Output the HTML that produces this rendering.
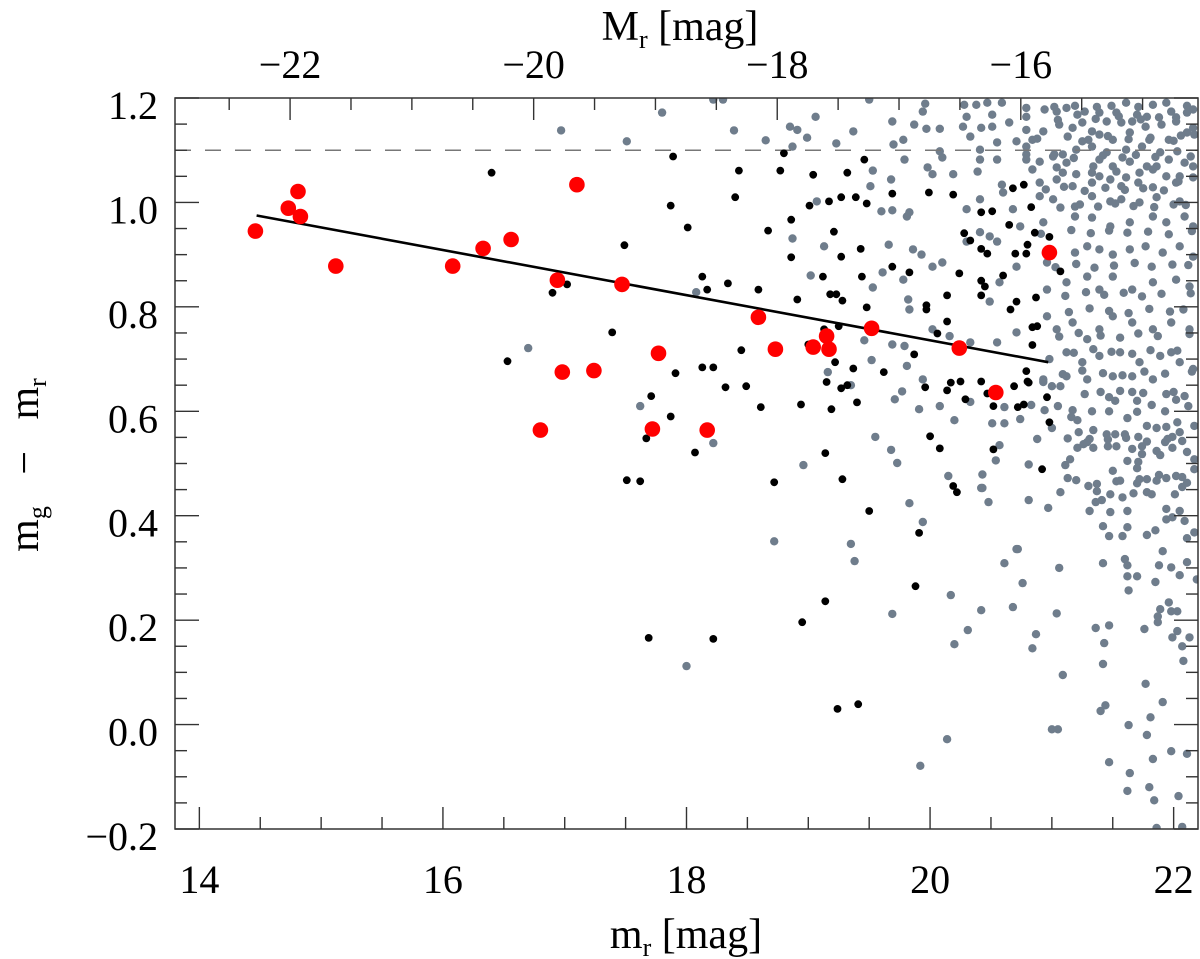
<!DOCTYPE html>
<html><head><meta charset="utf-8"><style>
html,body{margin:0;padding:0;background:#fff;}
svg{display:block;}
text{font-family:"Liberation Serif","DejaVu Serif",serif;fill:#000;}
</style></head><body>
<svg id="chart" width="1200" height="959" viewBox="0 0 1200 959" xmlns="http://www.w3.org/2000/svg">
<g id="gray"></g>
<g id="refs"></g>
<g id="black"></g>
<g id="fit"></g>
<g id="red"></g>
<g id="axes"></g>
</svg>
<script>
const xTicks=[14,16,18,20,22];
const yTicks=[-0.2,0.0,0.2,0.4,0.6,0.8,1.0,1.2];
const yTickLabels=["\u22120.2","0.0","0.2","0.4","0.6","0.8","1.0","1.2"];
const topTicks=[-22,-20,-18,-16];
const topTickLabels=["\u221222","\u221220","\u221218","\u221216"];
const distOffset=36.745;
const cutColor=[1.1];
const fitM=[14.47,20.97];
const fitV=[0.975,0.694];
const redM=[14.46,14.73,14.81,14.83,15.12,16.08,16.33,16.56,16.94,16.98,17.47,16.80,17.24,17.72,17.77,18.17,17.10,18.59,18.73,19.04,19.15,19.17,19.52,20.24,20.54,20.98];
const redV=[0.945,0.989,1.021,0.973,0.878,0.878,0.912,0.929,0.851,0.675,0.843,0.564,0.678,0.566,0.711,0.564,1.034,0.780,0.719,0.723,0.744,0.719,0.759,0.721,0.636,0.904];
const blackM=[16.40,17.89,17.87,18.01,17.49,17.02,16.90,17.39,16.53,18.13,18.17,18.34,18.59,18.43,18.40,18.80,18.77,18.67,18.86,18.86,18.91,19.04,19.01,19.17,19.27,19.39,19.48,19.32,19.46,19.69,19.21,19.27,19.43,19.44,19.69,19.12,19.18,19.23,19.28,19.48,19.25,19.13,19.00,19.22,19.37,19.62,19.15,19.27,19.32,19.40,19.19,18.94,18.61,18.45,18.13,18.22,17.91,18.32,18.49,17.71,17.87,17.67,18.07,17.51,17.62,18.72,19.14,19.28,19.50,19.91,19.88,19.14,18.95,17.69,18.22,19.24,19.41,20.19,20.22,19.96,20.17,20.25,20.42,20.14,20.29,20.47,20.52,20.69,20.72,20.77,20.81,20.96,20.98,20.00,20.08,20.52,20.92,19.99,20.19,20.68,20.77,20.42,20.51,20.83,20.65,20.28,20.33,20.42,20.47,20.86,20.98,20.80,20.70,20.79,21.07,19.83,20.24,20.60,20.42,20.45,20.42,20.14,20.87,20.71,20.66,19.97,19.97,20.14,20.06,20.84,20.88,20.84,19.87,20.79,20.80];
const blackV=[1.057,1.088,0.994,0.952,0.918,0.843,0.827,0.751,0.696,0.858,0.833,0.845,0.833,1.061,1.010,1.094,1.061,0.946,0.967,0.895,0.814,1.053,0.994,1.002,1.010,1.010,0.998,1.057,1.082,1.017,0.944,0.896,0.911,0.858,0.877,0.858,0.824,0.824,0.812,0.799,0.763,0.757,0.728,0.694,0.682,0.675,0.656,0.644,0.650,0.617,0.604,0.613,0.608,0.717,0.684,0.684,0.673,0.646,0.648,0.629,0.590,0.548,0.521,0.468,0.466,0.464,0.520,0.470,0.409,0.367,0.265,0.236,0.196,0.166,0.164,0.030,0.039,0.457,0.445,0.646,0.655,0.657,0.657,0.640,0.623,0.634,0.610,0.648,0.608,0.613,0.655,0.627,0.579,0.552,0.529,0.527,0.489,1.019,1.015,1.027,1.034,0.981,0.983,0.991,0.957,0.941,0.927,0.911,0.902,0.942,0.934,0.919,0.902,0.902,0.868,0.866,0.864,0.860,0.850,0.839,0.822,0.822,0.818,0.810,0.795,0.803,0.795,0.772,0.749,0.761,0.763,0.727,0.709,0.677,0.657];
const grayM=[16.97,17.51,18.39,18.65,18.87,18.99,19.23,19.37,19.70,19.53,19.51,19.68,19.07,19.60,19.69,18.87,19.13,19.66,19.02,19.61,19.53,18.08,19.46,19.69,19.52,16.70,19.16,19.35,19.71,17.62,19.55,19.68,19.73,18.96,18.22,18.72,19.35,
17.80,18.22,18.30,19.06,18.85,18.91,19.50,19.69,
19.83,19.94,19.38,20.43,20.48,20.71,20.61,20.17,19.69,20.42,20.68,20.31,20.20,18.00,20.14,19.92,
19.77,19.91,20.08,20.20,20.33,20.51,20.61,20.61,20.74,20.83,20.93,21.00,21.07,20.94,21.05,21.00,20.88,20.57,20.54,20.81,20.15,20.43,20.42,20.81,20.97,21.07,21.13,21.11,21.15,21.17,21.16,21.21,21.22,21.27,21.33,21.34,21.31,21.21,21.26,21.34,21.40,21.47,21.52,21.47,21.45,21.52,21.60,21.46,21.53,21.56,21.66,21.75,21.70,21.82,21.62,21.70,21.78,21.86,21.94,22.00,21.93,22.02,22.09,22.12,22.17,21.94,22.03,22.05,21.99,21.93,21.86,21.89,21.71,21.74,21.74,21.66,21.71,21.70,21.62,21.50,21.56,21.72,21.78,21.88,21.94,22.02,22.07,21.99,22.11,22.17,22.17,22.07,22.01,21.78,21.82,21.67,21.58,21.48,21.41,21.36,21.31,21.30,21.37,21.48,21.62,21.42,21.47,21.58,21.62,21.78,21.85,21.94,21.94,21.99,22.05,22.09,22.11,22.17,21.91,21.88,21.98,22.05,22.11,22.19,21.85,21.70,21.62,21.63,21.60,21.62,21.42,21.96,21.89,21.98,22.03,21.87,21.87,21.76,22.03,21.99,22.13,22.07,22.08,21.36,21.47,21.43,21.42,21.09,21.06,21.04,20.87,20.84,20.76,20.72,21.77,21.91,21.81,21.78,21.63,21.40,21.44,21.00,21.05,21.47,21.64,21.83,21.98,22.11,21.80,21.62,21.84,22.04,21.86,22.07,
19.96,20.28,20.38,20.47,20.59,20.79,21.02,21.12,21.19,21.37,21.49,21.61,21.71,21.83,21.94,22.11,22.16,
19.94,20.30,20.51,20.79,20.94,21.04,21.27,21.39,21.53,21.70,21.78,21.98,22.11,
19.87,19.97,20.08,20.27,20.42,20.51,20.65,20.79,20.93,21.06,21.17,21.25,21.33,21.45,21.57,21.66,21.77,21.90,22.02,22.16,
19.78,20.33,20.55,20.71,20.84,21.25,21.39,21.50,21.64,21.80,21.96,22.11,22.17,
20.08,20.41,20.79,20.79,21.09,21.20,21.33,21.45,21.61,21.74,21.89,22.03,
19.79,20.10,20.41,20.55,20.79,20.90,21.01,21.12,21.34,21.39,21.50,21.64,21.78,21.86,21.96,22.09,22.16,
19.98,20.19,20.39,20.02,20.84,21.04,21.09,21.20,21.33,21.39,21.53,21.61,21.72,21.83,21.94,22.05,22.16,
20.59,20.90,21.04,21.17,21.33,21.48,21.57,21.71,21.83,22.02,
20.41,20.60,20.90,21.01,21.19,21.33,21.48,21.57,21.72,21.86,22.05,
19.81,19.83,20.30,20.68,20.74,20.93,21.19,21.33,21.48,21.64,21.83,21.94,22.09,22.16,
19.86,19.93,20.02,20.10,20.30,20.41,20.49,20.55,20.71,20.96,21.19,21.29,21.39,21.50,21.64,21.77,21.91,22.05,22.16,
19.78,19.82,19.83,20.49,20.57,20.96,21.12,21.29,21.39,21.50,21.66,21.83,22.02,22.13,
20.33,20.16,20.02,20.55,20.71,20.96,21.04,21.17,21.29,21.39,21.50,21.66,21.83,21.98,22.13,
19.79,19.81,19.94,20.98,21.12,21.25,21.39,21.56,21.72,21.89,22.05,22.16,20.93,21.12,21.29,21.50,21.66,21.83,22.02,
21.05,21.21,21.36,21.55,21.73,21.88,22.06,20.88,21.13,21.30,21.46,21.63,21.81,22.00,22.14,
21.02,21.18,21.42,21.58,21.69,21.85,22.04,20.95,21.10,21.27,21.44,21.60,21.75,21.92,22.10,
21.07,21.23,21.38,21.52,21.67,21.84,22.00,22.15,20.91,21.16,21.32,21.47,21.62,21.79,21.96,22.12,
21.03,21.20,21.35,21.51,21.68,21.82,21.99,22.14,21.11,21.28,21.43,21.59,21.74,21.90,22.08,
21.14,21.31,21.47,21.63,21.80,21.97,22.13,21.06,21.22,21.40,21.56,21.71,21.87,22.03,
21.18,21.34,21.49,21.66,21.81,21.98,22.15,21.09,21.25,21.42,21.58,21.76,21.93,22.07,
21.13,21.29,21.46,21.61,21.78,21.95,22.11,21.20,21.37,21.53,21.70,21.86,22.02];
const grayV=[1.138,1.117,1.138,1.119,1.107,1.124,1.113,1.136,1.111,1.061,1.031,1.044,1.002,0.983,0.985,0.931,0.916,0.919,0.860,0.866,0.837,0.828,0.736,0.728,0.698,0.721,0.675,0.650,0.623,0.610,0.551,0.526,0.501,0.497,0.539,0.351,0.346,
1.172,1.197,1.197,1.164,1.145,1.139,1.197,1.155,
0.424,0.388,0.313,0.453,0.426,0.336,0.309,0.248,0.212,0.219,0.225,0.181,0.154,0.112,-0.028,-0.079,
0.638,0.604,0.610,0.583,0.618,0.577,0.577,0.608,0.585,0.612,0.656,0.648,0.648,0.602,0.610,0.568,0.547,0.535,0.506,0.498,0.476,0.479,0.453,0.430,0.415,0.445,0.472,0.497,0.508,0.602,0.589,0.583,0.560,0.633,0.600,0.564,0.547,0.530,0.537,0.530,0.637,0.627,0.620,0.600,0.556,0.556,0.556,0.533,0.533,0.639,0.637,0.635,0.620,0.612,0.587,0.599,0.572,0.568,0.633,0.637,0.600,0.622,0.629,0.610,0.572,0.570,0.579,0.560,0.551,0.541,0.524,0.516,0.551,0.533,0.518,0.528,0.503,0.491,0.505,0.486,0.467,0.470,0.470,0.478,0.472,0.476,0.474,0.530,0.522,0.508,0.489,0.455,0.441,0.445,0.441,0.443,0.435,0.441,0.430,0.426,0.409,0.457,0.447,0.407,0.409,0.380,0.361,0.361,0.378,0.363,0.372,0.413,0.393,0.397,0.409,0.390,0.357,0.368,0.332,0.305,0.301,0.286,0.311,0.278,0.273,0.284,0.284,0.257,0.317,0.305,0.309,0.234,0.221,0.217,0.217,0.207,0.196,0.183,0.179,0.167,0.167,0.150,0.122,0.185,0.190,0.156,0.116,0.095,0.300,0.213,0.173,0.146,0.271,0.336,0.078,0.043,0.014,-0.020,-0.001,0.026,0.037,-0.009,-0.009,-0.072,-0.093,-0.066,-0.051,-0.056,-0.120,-0.127,-0.145,-0.137,-0.198,-0.196,
1.189,1.187,1.187,1.191,1.191,1.181,1.183,1.181,1.185,1.183,1.185,1.191,1.183,1.187,1.191,1.185,1.178,
1.174,1.164,1.168,1.164,1.178,1.174,1.174,1.172,1.172,1.168,1.164,1.174,1.172,
1.149,1.141,1.141,1.145,1.143,1.145,1.153,1.139,1.136,1.149,1.143,1.153,1.136,1.155,1.153,1.155,1.145,1.149,1.155,1.143,
1.120,1.126,1.115,1.117,1.120,1.117,1.130,1.120,1.134,1.120,1.120,1.134,1.130,
1.098,1.101,1.107,1.092,1.092,1.101,1.107,1.096,1.101,1.107,1.096,1.098,
1.082,1.086,1.082,1.082,1.082,1.078,1.088,1.076,1.069,1.082,1.069,1.078,1.069,1.069,1.082,1.076,1.069,
1.067,1.054,1.059,1.054,1.063,1.067,1.057,1.054,1.057,1.050,1.059,1.048,1.057,1.063,1.050,1.050,1.048,
1.034,1.038,1.044,1.031,1.038,1.044,1.031,1.038,1.029,1.038,
1.006,1.019,1.012,1.006,0.992,1.012,1.002,1.006,1.000,1.010,1.002,
0.973,0.981,0.987,0.987,0.954,0.962,0.973,0.971,0.954,0.962,0.973,0.962,0.973,0.954,
0.910,0.900,0.877,0.885,0.925,0.943,0.935,0.925,0.877,0.885,0.904,0.916,0.910,0.900,0.910,0.916,0.904,0.916,0.896,
0.852,0.814,0.795,0.810,0.847,0.833,0.847,0.858,0.833,0.858,0.833,0.847,0.852,0.839,
0.732,0.744,0.757,0.732,0.751,0.782,0.757,0.770,0.738,0.757,0.782,0.770,0.757,0.770,0.757,
0.725,0.687,0.661,0.700,0.713,0.694,0.706,0.713,0.694,0.706,0.694,0.681,0.661,0.667,0.661,0.667,0.667,0.661,
1.163,1.158,1.168,1.160,1.165,1.159,1.163,1.128,1.122,1.126,1.120,1.127,1.121,1.124,1.118,
1.088,1.092,1.085,1.090,1.086,1.091,1.087,1.040,1.025,1.030,1.022,1.028,1.024,1.027,1.023,
0.995,0.990,0.996,0.992,0.998,0.993,0.991,0.996,0.945,0.940,0.947,0.941,0.946,0.942,0.944,0.939,
0.880,0.876,0.882,0.875,0.879,0.884,0.877,0.881,0.826,0.821,0.828,0.823,0.827,0.820,0.825,
0.795,0.790,0.797,0.792,0.788,0.796,0.791,0.748,0.743,0.750,0.745,0.741,0.749,0.744,
0.716,0.712,0.719,0.714,0.710,0.717,0.713,0.676,0.671,0.678,0.673,0.669,0.676,0.672,
0.543,0.548,0.541,0.546,0.549,0.542,0.547,0.463,0.468,0.461,0.466,0.462,0.467];
const W0=175,W1=1198,H0=98,H1=829;
const xMin=13.80,xMax=22.20,yMin=-0.2,yMax=1.2;
function sx(m){return W0+(m-xMin)/(xMax-xMin)*(W1-W0);}
function sy(v){return H1-(v-yMin)/(yMax-yMin)*(H1-H0);}
const NS="http://www.w3.org/2000/svg";
function mk(tag,parent){const e=document.createElementNS(NS,tag);parent.appendChild(e);return e;}
function dots(g,M,V,r,fill,nm){
  for(let i=0;i<M.length;i++){
    const c=mk('circle',g);
    c.setAttribute('cx',sx(M[i]).toFixed(1));c.setAttribute('cy',sy(V[i]).toFixed(1));
    c.setAttribute('r',r);c.setAttribute('fill',fill);
    
    
  }
}
const gG=document.getElementById('gray'),gB=document.getElementById('black'),gR=document.getElementById('red'),gF=document.getElementById('fit'),gRef=document.getElementById('refs'),gA=document.getElementById('axes');
const clip=mk('clipPath',document.getElementById('chart'));clip.id='pc';
const cr=mk('rect',clip);cr.setAttribute('x',W0);cr.setAttribute('y',H0);cr.setAttribute('width',W1-W0);cr.setAttribute('height',H1-H0);
gG.setAttribute('clip-path','url(#pc)');
dots(gG,grayM,grayV,4.2,'#6f7d8c','gray-point');
const dl=mk('line',gRef);
dl.setAttribute('x1',W0);dl.setAttribute('x2',W1);dl.setAttribute('y1',sy(cutColor[0]));dl.setAttribute('y2',sy(cutColor[0]));
dl.setAttribute('stroke','#777');dl.setAttribute('stroke-width','1.5');dl.setAttribute('stroke-dasharray','16,14');


dots(gB,blackM,blackV,3.9,'#000','black-point');
const fl=mk('line',gF);
fl.setAttribute('x1',sx(fitM[0]));fl.setAttribute('y1',sy(fitV[0]));fl.setAttribute('x2',sx(fitM[1]));fl.setAttribute('y2',sy(fitV[1]));
fl.setAttribute('stroke','#000');fl.setAttribute('stroke-width','2.6');


dots(gR,redM,redV,7.8,'#ff0000','red-point');
const fr=mk('rect',gA);
fr.setAttribute('x',W0);fr.setAttribute('y',H0);fr.setAttribute('width',W1-W0);fr.setAttribute('height',H1-H0);
fr.setAttribute('fill','none');fr.setAttribute('stroke','#333');fr.setAttribute('stroke-width','1.5');


function tick(x1,y1,x2,y2){const l=mk('line',gA);l.setAttribute('x1',x1);l.setAttribute('y1',y1);l.setAttribute('x2',x2);l.setAttribute('y2',y2);l.setAttribute('stroke','#333');l.setAttribute('stroke-width','1.4');

}
function txt(x,y,s,anchor,size,nm){const t=mk('text',gA);t.setAttribute('x',x);t.setAttribute('y',y);t.setAttribute('text-anchor',anchor);t.setAttribute('font-size',size);t.textContent=s;

return t;}
for(let m=14;m<=22.001;m+=0.5){const x=sx(m);const maj=Math.abs(m-Math.round(m/2)*2)<1e-6;tick(x,H1,x,H1-(maj?22:12));}
xTicks.forEach(m=>{txt(sx(m),893,String(m),'middle',40,'x-tick-label');});
for(let M=-23;M<=-14.5;M+=0.5){const x=sx(M+distOffset);if(x<W0||x>W1)continue;const maj=Math.abs(M-Math.round(M/2)*2)<1e-6;tick(x,H0,x,H0+(maj?22:12));}
topTicks.forEach((M,i)=>{txt(sx(M+distOffset),78,topTickLabels[i],'middle',40,'top-tick-label');});
for(let v=-0.2;v<=1.2001;v+=0.05){const y=sy(v);const maj=Math.abs(v*5-Math.round(v*5))<1e-6;const L=maj?24:12;tick(W0,y,W0+L,y);tick(W1,y,W1-L,y);}
yTicks.forEach((v,i)=>{txt(158,sy(v)+21,yTickLabels[i],'end',40,'y-tick-label');});
const xt=txt(686,948,'','middle',42,'x-axis-title');
xt.innerHTML='m<tspan font-size="26" dy="8">r</tspan><tspan dy="-8"> [mag]</tspan>';
const tt=txt(680,40,'','middle',42,'top-axis-title');
tt.innerHTML='M<tspan font-size="26" dy="8">r</tspan><tspan dy="-8"> [mag]</tspan>';
const yt=txt(0,0,'','middle',42,'y-axis-title');
yt.setAttribute('transform','translate(38,465) rotate(-90)');
yt.innerHTML='m<tspan font-size="26" dy="8">g</tspan><tspan dy="-8" xml:space="preserve">   \u2212   m</tspan><tspan font-size="26" dy="8">r</tspan>';
</script>
</body></html>
